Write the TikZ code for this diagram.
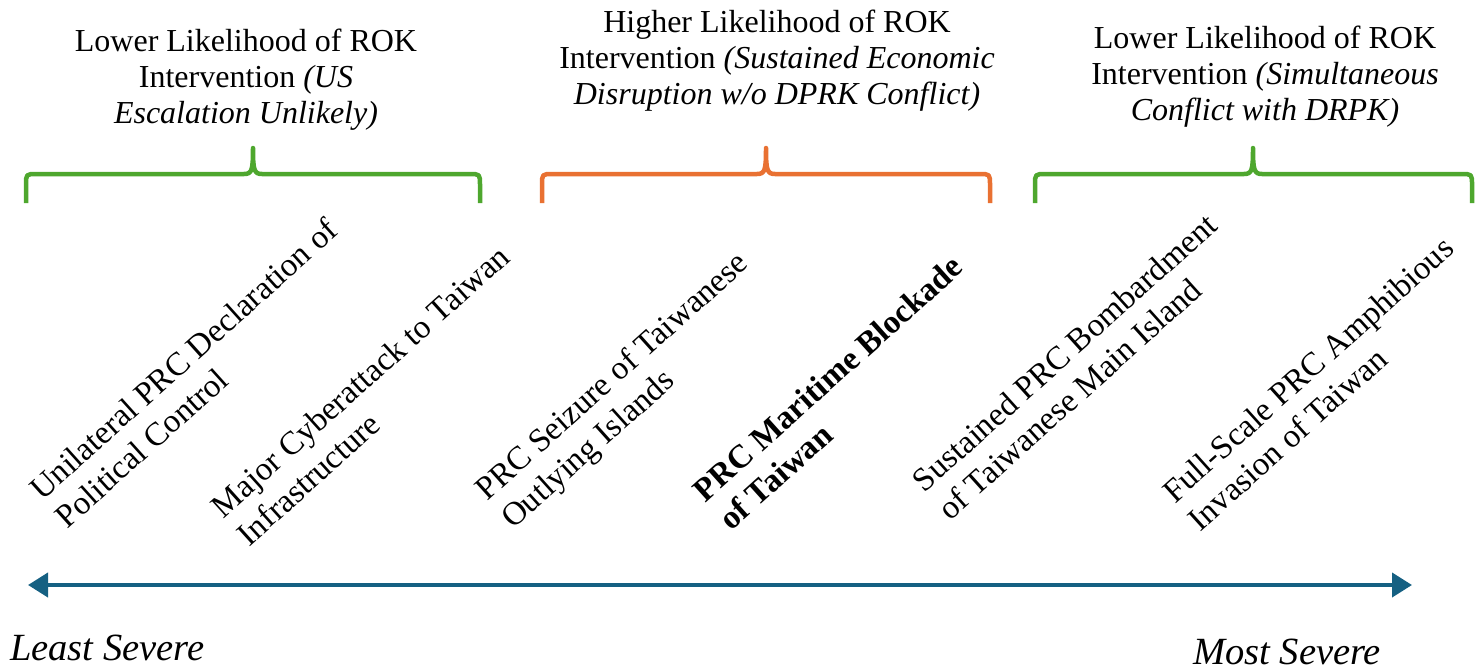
\documentclass[tikz,border=0pt]{standalone}
\usepackage{fontspec}
\setmainfont{Liberation Serif}
\usetikzlibrary{arrows.meta}
\definecolor{bgreen}{HTML}{4EA72E}
\definecolor{borange}{HTML}{E97132}
\definecolor{bblue}{HTML}{156082}
\newcommand\myBrace[4]{%
  \draw[bracestyle,#4] (#1,203) -- (#1,185) .. controls (#1,174) .. (#1+11,174)
    -- (#3-9,174) .. controls (#3-1,174) and (#3,170) .. (#3,148)
    .. controls (#3,170) and (#3+1,174) .. (#3+9,174)
    -- (#2-11,174) .. controls (#2,174) .. (#2,185) -- (#2,203);}
\begin{document}
\begin{tikzpicture}[x=1pt,y=-1pt,
  bracestyle/.style={line width=4.5pt,line join=round,line cap=butt},
  title/.style={align=center,inner sep=0pt,font=\fontsize{32}{36}\selectfont},
  event/.style={align=left,inner sep=0pt,rotate=42,anchor=west,font=\fontsize{33}{38}\selectfont},
  sev/.style={inner sep=0pt,anchor=base west,font=\fontsize{38.5}{42}\selectfont\itshape},
  axis/.style={bblue,line width=4pt,{Triangle[length=20pt,width=24pt]}-{Triangle[length=20pt,width=24pt]}}]
\useasboundingbox (0,0) rectangle (1483,670);
% titles
\node[title] (t1) at (246,80) {Lower Likelihood of ROK\\Intervention \textit{(US}\\\textit{Escalation Unlikely)}};
\node[title] (t2) at (777,61) {Higher Likelihood of ROK\\Intervention \textit{(Sustained Economic}\\\textit{Disruption w/o DPRK Conflict)}};
\node[title] (t3) at (1265,77) {Lower Likelihood of ROK\\Intervention \textit{(Simultaneous}\\\textit{Conflict with DRPK)}};
% braces
\myBrace{26}{480}{253}{bgreen}
\myBrace{542}{990}{766}{borange}
\myBrace{1035}{1472}{1253}{bgreen}
% events
\node[event] (e1) at (47,507) {Unilateral PRC Declaration of\\Political Control};
\node[event] (e2) at (229,525) {Major Cyberattack to Taiwan\\Infrastructure};
\node[event] (e3) at (495,510) {PRC Seizure of Taiwanese\\Outlying Islands};
\node[event,font=\fontsize{33}{38}\selectfont\bfseries] (e4) at (711,509) {PRC Maritime Blockade\\of Taiwan};
\node[event] (e5) at (930,499) {Sustained PRC Bombardment\\of Taiwanese Main Island};
\node[event] (e6) at (1180,510) {Full-Scale PRC Amphibious\\Invasion of Taiwan};
% axis
\coordinate (aL) at (28,585);
\coordinate (aR) at (1412,585);
\draw[axis] (aL) -- (aR);
\node[sev] (least) at (10,660) {Least Severe};
\node[sev] (most) at (1193,664) {Most Severe};
\end{tikzpicture}
\end{document}
